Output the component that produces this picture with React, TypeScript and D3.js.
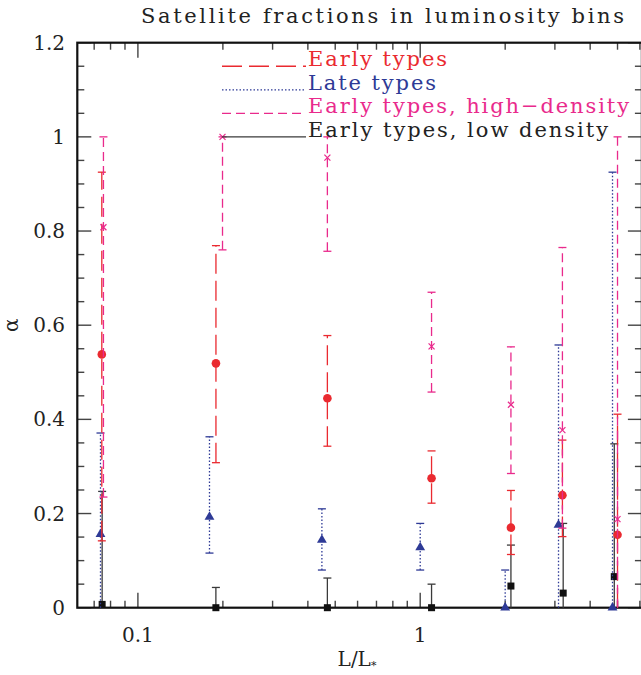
import React from 'react';
import * as d3 from 'd3';

// luminosity bin centres (L/L*) per series
const xEarly = [0.0745, 0.189, 0.469, 1.097, 2.096, 3.19, 5.0];
const xLate = [0.0737, 0.1793, 0.4485, 1.0, 2.0, 3.09, 4.8];
const xHigh = [0.0755, 0.1994, 0.469, 1.097, 2.096, 3.19, 5.0];
const xLow = [0.0747, 0.1889, 0.469, 1.097, 2.096, 3.21, 4.87];

// satellite fractions and error bar ends
const early = [0.538, 0.519, 0.445, 0.275, 0.17, 0.239, 0.155];
const earlyLo = [0.142, 0.308, 0.343, 0.222, 0.113, 0.151, 0];
const earlyHi = [0.925, 0.769, 0.578, 0.333, 0.249, 0.356, 0.411];

const late = [0.156, 0.193, 0.144, 0.128, 0, 0.176, 0];
const lateLo = [0, 0.116, 0.08, 0.08, 0, 0, 0];
const lateHi = [0.371, 0.363, 0.21, 0.179, 0.08, 0.558, 0.925];

const high = [0.808, 1.0, 0.956, 0.555, 0.431, 0.377, 0.188];
const highLo = [0.235, 0.76, 0.757, 0.458, 0.285, 0.169, 0];
const highHi = [1.0, 1.0, 1.0, 0.67, 0.554, 0.765, 1.0];

const low = [0.007, 0, 0, 0, 0.046, 0.031, 0.066];
const lowLo = [0, 0, 0, 0, 0, 0, 0];
const lowHi = [0.247, 0.043, 0.063, 0.05, 0.133, 0.179, 0.348];

const legendLabels = ['Early types', 'Late types', 'Early types, high\u2212density', 'Early types, low density'];
const legendWidths = [139, 128, 321, 300];
const yTickLabels = [0, 0.2, 0.4, 0.6, 0.8, 1, 1.2];
const xTickLabels = [0.1, 1];

const font = '"DejaVu Serif", serif';

const series = [
  { key: 'low', color: '#3a3a3a', dash: 'none', marker: 'square', xs: xLow, ys: low, lo: lowLo, hi: lowHi },
  { key: 'late', color: '#2e3a96', dash: '1.5,2', marker: 'triangle', xs: xLate, ys: late, lo: lateLo, hi: lateHi },
  { key: 'early', color: '#ea2a30', dash: '20,7', marker: 'circle', xs: xEarly, ys: early, lo: earlyLo, hi: earlyHi },
  { key: 'high', color: '#e92a8c', dash: '9,5', marker: 'cross', xs: xHigh, ys: high, lo: highLo, hi: highHi },
];
const legendOrder = ['early', 'late', 'high', 'low'];
const legendY = [1.15, 1.1, 1.05, 1.0];

export default function App() {
  const x = d3.scaleLog().domain([0.061, 6.1]).range([77.3, 641.9]);
  const y = d3.scaleLinear().domain([0, 1.2]).range([607.7, 42.7]);
  const [x0, x1] = x.range();
  const [y0, y1] = y.range();

  const xt = x.ticks().filter(t => t > 0.061 && t < 6.1);
  const isMajorX = (t: number) => Math.abs(Math.log10(t) - Math.round(Math.log10(t))) < 1e-6;
  const yt = d3.range(0, 1.2001, 0.05);
  const isMajorY = (t: number) => Math.abs(t / 0.2 - Math.round(t / 0.2)) < 1e-6;

  const tri = d3.symbol().type(d3.symbolTriangle).size(42)();

  const marker = (m: string, cx: number, cy: number, color: string, i: number) => {
    if (m === 'circle') return <circle key={i} cx={cx} cy={cy} r={4.3} fill={color} />;
    if (m === 'square') return <rect key={i} x={cx - 3.5} y={cy - 3.5} width={7} height={7} fill="#111" />;
    if (m === 'triangle') return <path key={i} d={tri as string} transform={`translate(${cx},${cy})`} fill={color} />;
    return (
      <g key={i} stroke={color} strokeWidth={1.2}>
        <line x1={cx - 3} y1={cy - 3} x2={cx + 3} y2={cy + 3} />
        <line x1={cx - 3} y1={cy + 3} x2={cx + 3} y2={cy - 3} />
      </g>
    );
  };

  return (
    <svg width={641} height={675} style={{ position: 'absolute', left: 0, top: 0, background: '#fff' }}
      fontFamily={font}>
      {/* title */}
      <text x={141} y={23} fontSize={21} textLength={483} lengthAdjust="spacing" fill="#222">
        Satellite fractions in luminosity bins
      </text>

      {/* x ticks, bottom and top */}
      {xt.map((t, i) => {
        const len = isMajorX(t) ? 15 : 7;
        return (
          <g key={'xt' + i} stroke="#444" strokeWidth={1.4}>
            <line x1={x(t)} x2={x(t)} y1={y0} y2={y0 - len} />
            <line x1={x(t)} x2={x(t)} y1={y1} y2={y1 + len} />
          </g>
        );
      })}
      {/* y ticks, left and right */}
      {yt.map((t, i) => {
        const len = isMajorY(t) ? 14 : 7;
        return (
          <g key={'yt' + i} stroke="#444" strokeWidth={1.4}>
            <line x1={x0} x2={x0 + len} y1={y(t)} y2={y(t)} />
            <line x1={x1} x2={x1 - len} y1={y(t)} y2={y(t)} />
          </g>
        );
      })}
      {/* frame */}
      <rect x={x0} y={y1} width={x1 - x0} height={y0 - y1} fill="none" stroke="#111" strokeWidth={2.2} />

      {/* tick labels */}
      {yTickLabels.map(v => (
        <text key={'yl' + v} x={65} y={y(v)} dy="0.35em" textAnchor="end" fontSize={20} fill="#222">
          {String(v)}
        </text>
      ))}
      {xTickLabels.map(v => (
        <text key={'xl' + v} x={x(v)} y={642} textAnchor="middle" fontSize={20} fill="#222">
          {String(v)}
        </text>
      ))}

      {/* axis titles */}
      <text x={357} y={666} textAnchor="middle" fontSize={20} fill="#222">
        L/L<tspan fontSize={11} dy={3}>*</tspan>
      </text>
      <text transform={`translate(18,${y(0.6)}) rotate(-90)`} textAnchor="middle" fontSize={20} fill="#222">
        α
      </text>

      {/* error bars and markers */}
      {series.map(s => (
        <g key={s.key}>
          {s.xs.map((xv, i) => {
            const cx = x(xv);
            return (
              <g key={i} stroke={s.color} strokeWidth={1.3}>
                <line x1={cx} x2={cx} y1={y(s.lo[i])} y2={y(s.hi[i])} strokeDasharray={s.dash} />
                <line x1={cx - 4} x2={cx + 4} y1={y(s.hi[i])} y2={y(s.hi[i])} />
                {s.lo[i] > 0 && <line x1={cx - 4} x2={cx + 4} y1={y(s.lo[i])} y2={y(s.lo[i])} />}
              </g>
            );
          })}
          {s.xs.map((xv, i) => marker(s.marker, x(xv), y(s.ys[i]), s.color, i))}
        </g>
      ))}

      {/* legend */}
      {legendOrder.map((k, i) => {
        const s = series.find(d => d.key === k)!;
        const ly = y(legendY[i]);
        return (
          <g key={'lg' + k}>
            <line x1={222} x2={306} y1={ly} y2={ly} stroke={s.color} strokeWidth={1.3} strokeDasharray={s.dash} />
            <text x={308} y={ly} fontSize={21} fill={k === 'low' ? '#222' : s.color}
              textLength={legendWidths[i]} lengthAdjust="spacing">
              {legendLabels[i]}
            </text>
          </g>
        );
      })}
    </svg>
  );
}
